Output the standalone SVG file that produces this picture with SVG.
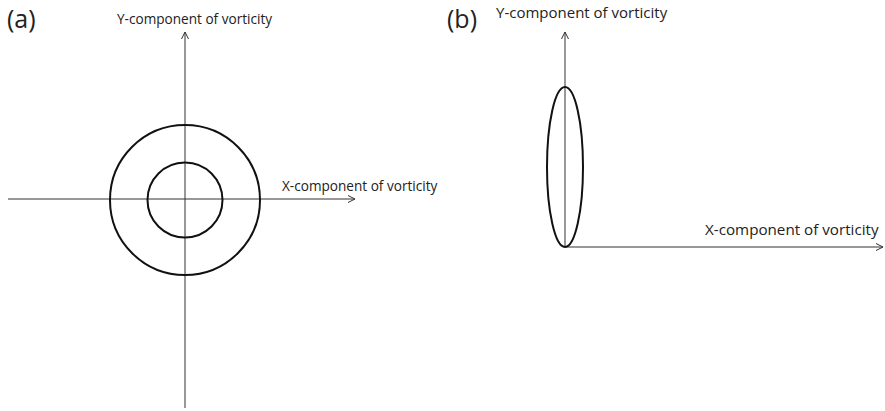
<svg xmlns="http://www.w3.org/2000/svg" width="885" height="411" viewBox="0 0 885 411">
<style>
.ax{stroke:#333;stroke-width:1;fill:none}
.sh{stroke:#111;stroke-width:2;fill:none}
.t{font-family:"Open Sans","Liberation Sans",sans-serif;fill:#222}
.lab{font-size:25px}
</style>
<defs>
<marker id="ar" markerWidth="10" markerHeight="10" refX="8" refY="5" orient="auto" markerUnits="userSpaceOnUse">
<path d="M1,1.5 L8,5 L1,8.5" fill="none" stroke="#333" stroke-width="1"/>
</marker>
</defs>
<rect width="885" height="411" fill="#fff"/>
<g id="panel-a">
<text class="t lab" x="7" y="28">(a)</text>
<text class="t" x="117" y="24" font-size="13.6">Y-component of vorticity</text>
<text class="t" x="282" y="191" font-size="13.6">X-component of vorticity</text>
<g id="axes-a">
<line class="ax" x1="185" y1="408" x2="185" y2="32" marker-end="url(#ar)"/>
<line class="ax" x1="8" y1="199" x2="355" y2="199" marker-end="url(#ar)"/>
</g>
<g id="outer-circle"><circle class="sh" cx="185" cy="200" r="75"/></g>
<g id="inner-circle"><circle class="sh" cx="185" cy="200" r="37.5"/></g>
</g>
<g id="panel-b">
<text class="t lab" x="447" y="28">(b)</text>
<text class="t" x="496" y="18" font-size="15">Y-component of vorticity</text>
<text class="t" x="705" y="235" font-size="15.2">X-component of vorticity</text>
<g id="axes-b">
<line class="ax" x1="565" y1="247" x2="565" y2="32" marker-end="url(#ar)"/>
<line class="ax" x1="565" y1="247" x2="883" y2="247" marker-end="url(#ar)"/>
</g>
<g id="ellipse"><ellipse class="sh" cx="565" cy="167" rx="18" ry="80"/></g>
</g>
</svg>
